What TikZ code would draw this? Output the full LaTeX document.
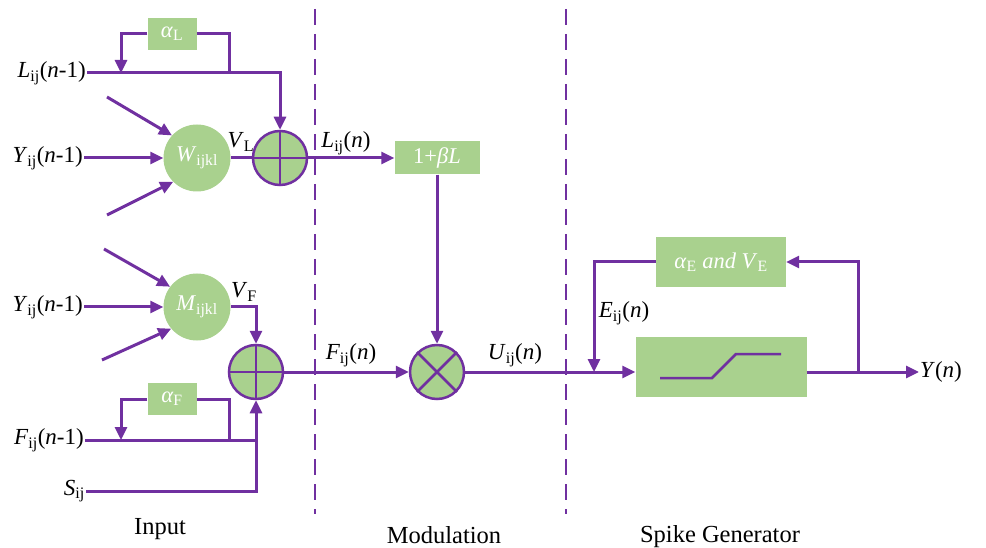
\documentclass[tikz,border=0pt]{standalone}
\usepackage{fontspec}
\setmainfont{Liberation Serif}
\usetikzlibrary{arrows.meta,calc}
\definecolor{pur}{HTML}{7030A0}
\definecolor{grn}{HTML}{A9D18E}
\newcommand{\sbs}[1]{\textsubscript{#1}}
\begin{document}
\begin{tikzpicture}[x=1pt,y=-1pt,
  wire/.style={pur, line width=3pt},
  arr/.style={wire, -{Triangle[length=13pt,width=12pt]}},
  gbox/.style={fill=grn, inner sep=0pt, text=white, font=\fontsize{22.5}{24}\selectfont},
  gcirc/.style={circle, fill=grn, minimum size=67pt, inner sep=0pt, text=white, font=\fontsize{22.5}{24}\selectfont},
  opc/.style={circle, fill=grn, draw=pur, line width=2.5pt, minimum size=54pt, inner sep=0pt},
  lbl/.style={font=\fontsize{23}{25}\selectfont, inner sep=1pt},
  captxt/.style={font=\fontsize{24.5}{26}\selectfont, inner sep=1pt},
  sep/.style={pur, line width=2.2pt, dash pattern=on 16pt off 9pt}
]
\useasboundingbox (0,0) rectangle (986,548);

% separators
\coordinate (s1t) at (315,9); \coordinate (s1b) at (315,514);
\coordinate (s2t) at (566,9); \coordinate (s2b) at (566,514);
\draw[sep] (s1t) -- (s1b);
\draw[sep] (s2t) -- (s2b);

% ---------- Input: linking part ----------
\node[gbox, minimum width=49pt, minimum height=32pt] (aL) at (172,34) {\textit{α}\sbs{L}};
\node[gcirc] (W) at (197,158) {\textit{W}\sbs{ijkl}};
\node[opc] (sumL) at (280,158) {};
\draw[pur, line width=2.5pt] (sumL.north) -- (sumL.south) (sumL.west) -- (sumL.east);

\node[lbl, anchor=east] (Lin) at (87,73) {\textit{L}\sbs{ij}(\textit{n}-1)};
\node[lbl, anchor=east] (Y1) at (84,158) {\textit{Y}\sbs{ij}(\textit{n}-1)};
\coordinate (fbL) at (121,73);
\coordinate (jL) at (229,73);
\draw[arr] (Lin.east) -| (sumL.north);
\draw[arr] (aL.west) -| (fbL);
\draw[wire] (aL.east) -| (jL);
\draw[arr] (Y1.east) -- (W.west);
\coordinate (d1) at (107,97);
\coordinate (d2) at (107,215);
\draw[arr] (d1) -- (W.138);
\draw[arr] (d2) -- (W.225);
\draw[wire] (W.east) -- (sumL.west);
\node[lbl] (VL) at (241,142) {\textit{V}\sbs{L}};

% ---------- Input: feeding part ----------
\node[gcirc] (M) at (197,307) {\textit{M}\sbs{ijkl}};
\node[opc] (sumF) at (256,372) {};
\draw[pur, line width=2.5pt] (sumF.north) -- (sumF.south) (sumF.west) -- (sumF.east);
\node[gbox, minimum width=49pt, minimum height=32pt] (aF) at (172,399) {\textit{α}\sbs{F}};

\node[lbl, anchor=east] (Y2) at (84,307) {\textit{Y}\sbs{ij}(\textit{n}-1)};
\node[lbl, anchor=east] (Fin) at (85,440) {\textit{F}\sbs{ij}(\textit{n}-1)};
\node[lbl, anchor=east] (Sin) at (86,491) {\textit{S}\sbs{ij}};
\draw[arr] (Y2.east) -- (M.west);
\coordinate (d3) at (104,249);
\coordinate (d4) at (102,360);
\draw[arr] (d3) -- (M.143);
\draw[arr] (d4) -- (M.220);
\draw[arr] (M.east) -| (sumF.north);
\node[lbl] (VF) at (244,292) {\textit{V}\sbs{F}};
\coordinate (fbF) at (121,440);
\coordinate (jF) at (229,440);
\coordinate (jS) at (256,440);
\draw[arr] (aF.west) -| (fbF);
\draw[wire] (aF.east) -| (jF);
\draw[arr] (Fin.east) -| (sumF.south);
\draw[wire] (Sin.east) -| (jS);

% ---------- Modulation ----------
\node[gbox, minimum width=85pt, minimum height=33pt] (bL) at (437,158) {1+\textit{βL}};
\node[opc] (mul) at (437,372) {};
\draw[pur, line width=2.5pt] (mul.45) -- (mul.225) (mul.135) -- (mul.315);
\draw[arr] (sumL.east) -- (bL.west);
\draw[arr] (bL.south) -- (mul.north);
\draw[arr] (sumF.east) -- (mul.west);
\node[lbl] (Ln) at (346,143) {\textit{L}\sbs{ij}(\textit{n})};
\node[lbl] (Fn) at (351,355) {\textit{F}\sbs{ij}(\textit{n})};
\node[lbl] (Un) at (515,355) {\textit{U}\sbs{ij}(\textit{n})};

% ---------- Spike generator ----------
\node[gbox, minimum width=171pt, minimum height=60pt] (sp) at (721,367) {};
\node[gbox, minimum width=130pt, minimum height=50pt] (aE) at (721,262) {\textit{α}\sbs{E} \textit{and V}\sbs{E}};
\draw[pur, line width=2.5pt] (660,378) -- (712,378) -- (736,354) -- (781,354);
\draw[arr] (mul.east) -- (mul.east -| sp.west);
\node[lbl, anchor=west] (Yout) at (919,372) {\textit{Y}(\textit{n})};
\draw[arr] (mul.east -| sp.east) -- (Yout.west);
\coordinate (jo) at (858,372);
\coordinate (je) at (594,372);
\draw[arr] (jo) |- (aE.east);
\draw[arr] (aE.west) -| (je);
\node[lbl] (En) at (624,313) {\textit{E}\sbs{ij}(\textit{n})};

% ---------- captions ----------
\node[captxt] (capI) at (160,529) {Input};
\node[captxt] (capM) at (444,535) {Modulation};
\node[captxt] (capS) at (720,537) {Spike Generator};
\end{tikzpicture}
\end{document}
